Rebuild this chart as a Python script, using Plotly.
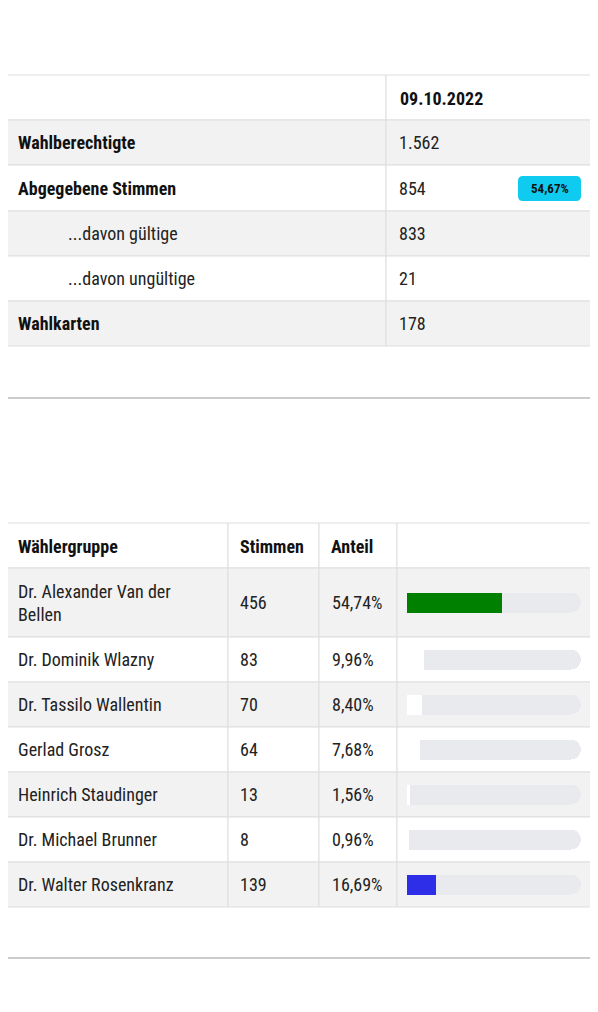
import plotly.graph_objects as go

FONT = "Roboto Condensed, Liberation Sans Narrow, Roboto, sans-serif"

t1_date = "09.10.2022"
t1_labels = ["Wahlberechtigte", "Abgegebene Stimmen", "...davon gültige", "...davon ungültige", "Wahlkarten"]
t1_values = ["1.562", "854", "833", "21", "178"]
turnout_badge = "54,67%"

t2_header = ["Wählergruppe", "Stimmen", "Anteil"]
candidates = ["Dr. Alexander Van der<br>Bellen", "Dr. Dominik Wlazny", "Dr. Tassilo Wallentin",
              "Gerlad Grosz", "Heinrich Staudinger", "Dr. Michael Brunner", "Dr. Walter Rosenkranz"]
votes = [456, 83, 70, 64, 13, 8, 139]
shares = [54.74, 9.96, 8.40, 7.68, 1.56, 0.96, 16.69]
bar_colors = ["#008000", "#ffffff", "#ffffff", "#ffffff", "#ffffff", "#ffffff", "#2e2ee8"]

OFF = 8
W, H = 598 - OFF, 1012 - OFF
GREY, BORDER = "#f2f2f2", "#dedede"
shapes, ann = [], []

def cell(x0, x1, y0, y1, fill):
    shapes.append(dict(type="rect", xref="x", yref="y", x0=x0, x1=x1, y0=y0, y1=y1,
                       fillcolor=fill, line=dict(color=BORDER, width=1), layer="below"))

def text(x, y, s, bold=False, size=18, color="#222", xanchor="left"):
    ann.append(dict(x=x, y=y, xref="x", yref="y", text=f"<b>{s}</b>" if bold else s, showarrow=False,
                    xanchor=xanchor, yanchor="middle", align="left",
                    font=dict(family=FONT, size=size, color=color)))

def rrect(x0, x1, y0, y1, r, color):
    p = (f"M{x0+r},{y0} L{x1-r},{y0} Q{x1},{y0} {x1},{y0+r} L{x1},{y1-r} Q{x1},{y1} {x1-r},{y1} "
         f"L{x0+r},{y1} Q{x0},{y1} {x0},{y1-r} L{x0},{y0+r} Q{x0},{y0} {x0+r},{y0} Z")
    shapes.append(dict(type="path", xref="x", yref="y", path=p, fillcolor=color, line=dict(width=0)))

text(6, 17, "WAHLBETEILIGUNG", size=19, color="#111")
c0, c1, c2 = 6, 386, 591
tops = [75, 120, 165, 211, 256, 301, 346]
cell(c0, c1, tops[0], tops[1], "white"); cell(c1, c2, tops[0], tops[1], "white")
text(398, 98, t1_date, bold=True, color="#111")
for i, (lab, val) in enumerate(zip(t1_labels, t1_values)):
    y0, y1 = tops[i + 1], tops[i + 2]
    fill = GREY if i % 2 == 0 else "white"
    cell(c0, c1, y0, y1, fill); cell(c1, c2, y0, y1, fill)
    ym = (y0 + y1) / 2
    if lab.startswith("..."):
        text(66, ym, lab)
    else:
        text(16, ym, lab, bold=True, color="#111")
    text(397, ym, val)
rrect(518, 581, 176, 201, 5, "#0ecbef")
text(549.5, 188.5, turnout_badge, bold=True, size=13, color="#111", xanchor="center")

shapes.append(dict(type="line", xref="x", yref="y", x0=6, x1=591, y0=398, y1=398, line=dict(color="#cccccc", width=2)))
text(6, 465, "BUNDESPRÄSIDENTENWAHL 2022", size=19, color="#111")

cols = [6, 228, 319, 397, 591]
rtops = [523, 568, 637, 682, 727, 772, 817, 862, 907]
for j in range(4):
    cell(cols[j], cols[j + 1], rtops[0], rtops[1], "white")
for j, h in enumerate(t2_header):
    text(cols[j] + 10, 546, h, bold=True, color="#111")
centers = []
for i in range(len(candidates)):
    y0, y1 = rtops[i + 1], rtops[i + 2]
    fill = GREY if i % 2 == 0 else "white"
    for j in range(4):
        cell(cols[j], cols[j + 1], y0, y1, fill)
    ym = (y0 + y1) / 2
    centers.append(ym)
    text(16, ym, candidates[i])
    text(238, ym, str(votes[i]))
    text(330, ym, f"{shares[i]:.2f}%".replace(".", ","))
shapes.append(dict(type="line", xref="x", yref="y", x0=6, x1=591, y0=958, y1=958, line=dict(color="#cccccc", width=2)))

fig = go.Figure()
fig.add_trace(go.Bar(x=shares, y=centers, orientation="h", marker=dict(color=bar_colors, line=dict(width=0)),
                     width=20, xaxis="x2", yaxis="y2", hoverinfo="skip"))
fig.add_trace(go.Bar(x=[100 - s for s in shares], y=centers, orientation="h",
                     marker=dict(color="#e8eaed", line=dict(width=0)),
                     width=20, xaxis="x2", yaxis="y2", hoverinfo="skip"))
fig.update_layout(
    width=W, height=H, margin=dict(l=0, r=0, t=0, b=0), showlegend=False,
    paper_bgcolor="white", plot_bgcolor="rgba(0,0,0,0)", barmode="stack", barcornerradius=10,
    xaxis=dict(range=[OFF, 598], visible=False, fixedrange=True),
    yaxis=dict(range=[1012, OFF], visible=False, fixedrange=True),
    xaxis2=dict(domain=[(407 - OFF) / W, (581 - OFF) / W], range=[0, 100], visible=False, anchor="y2"),
    yaxis2=dict(range=[1012, OFF], visible=False, overlaying="y", anchor="x2"),
    shapes=shapes, annotations=ann,
)
fig.write_html("out.html", config={"displayModeBar": False})
